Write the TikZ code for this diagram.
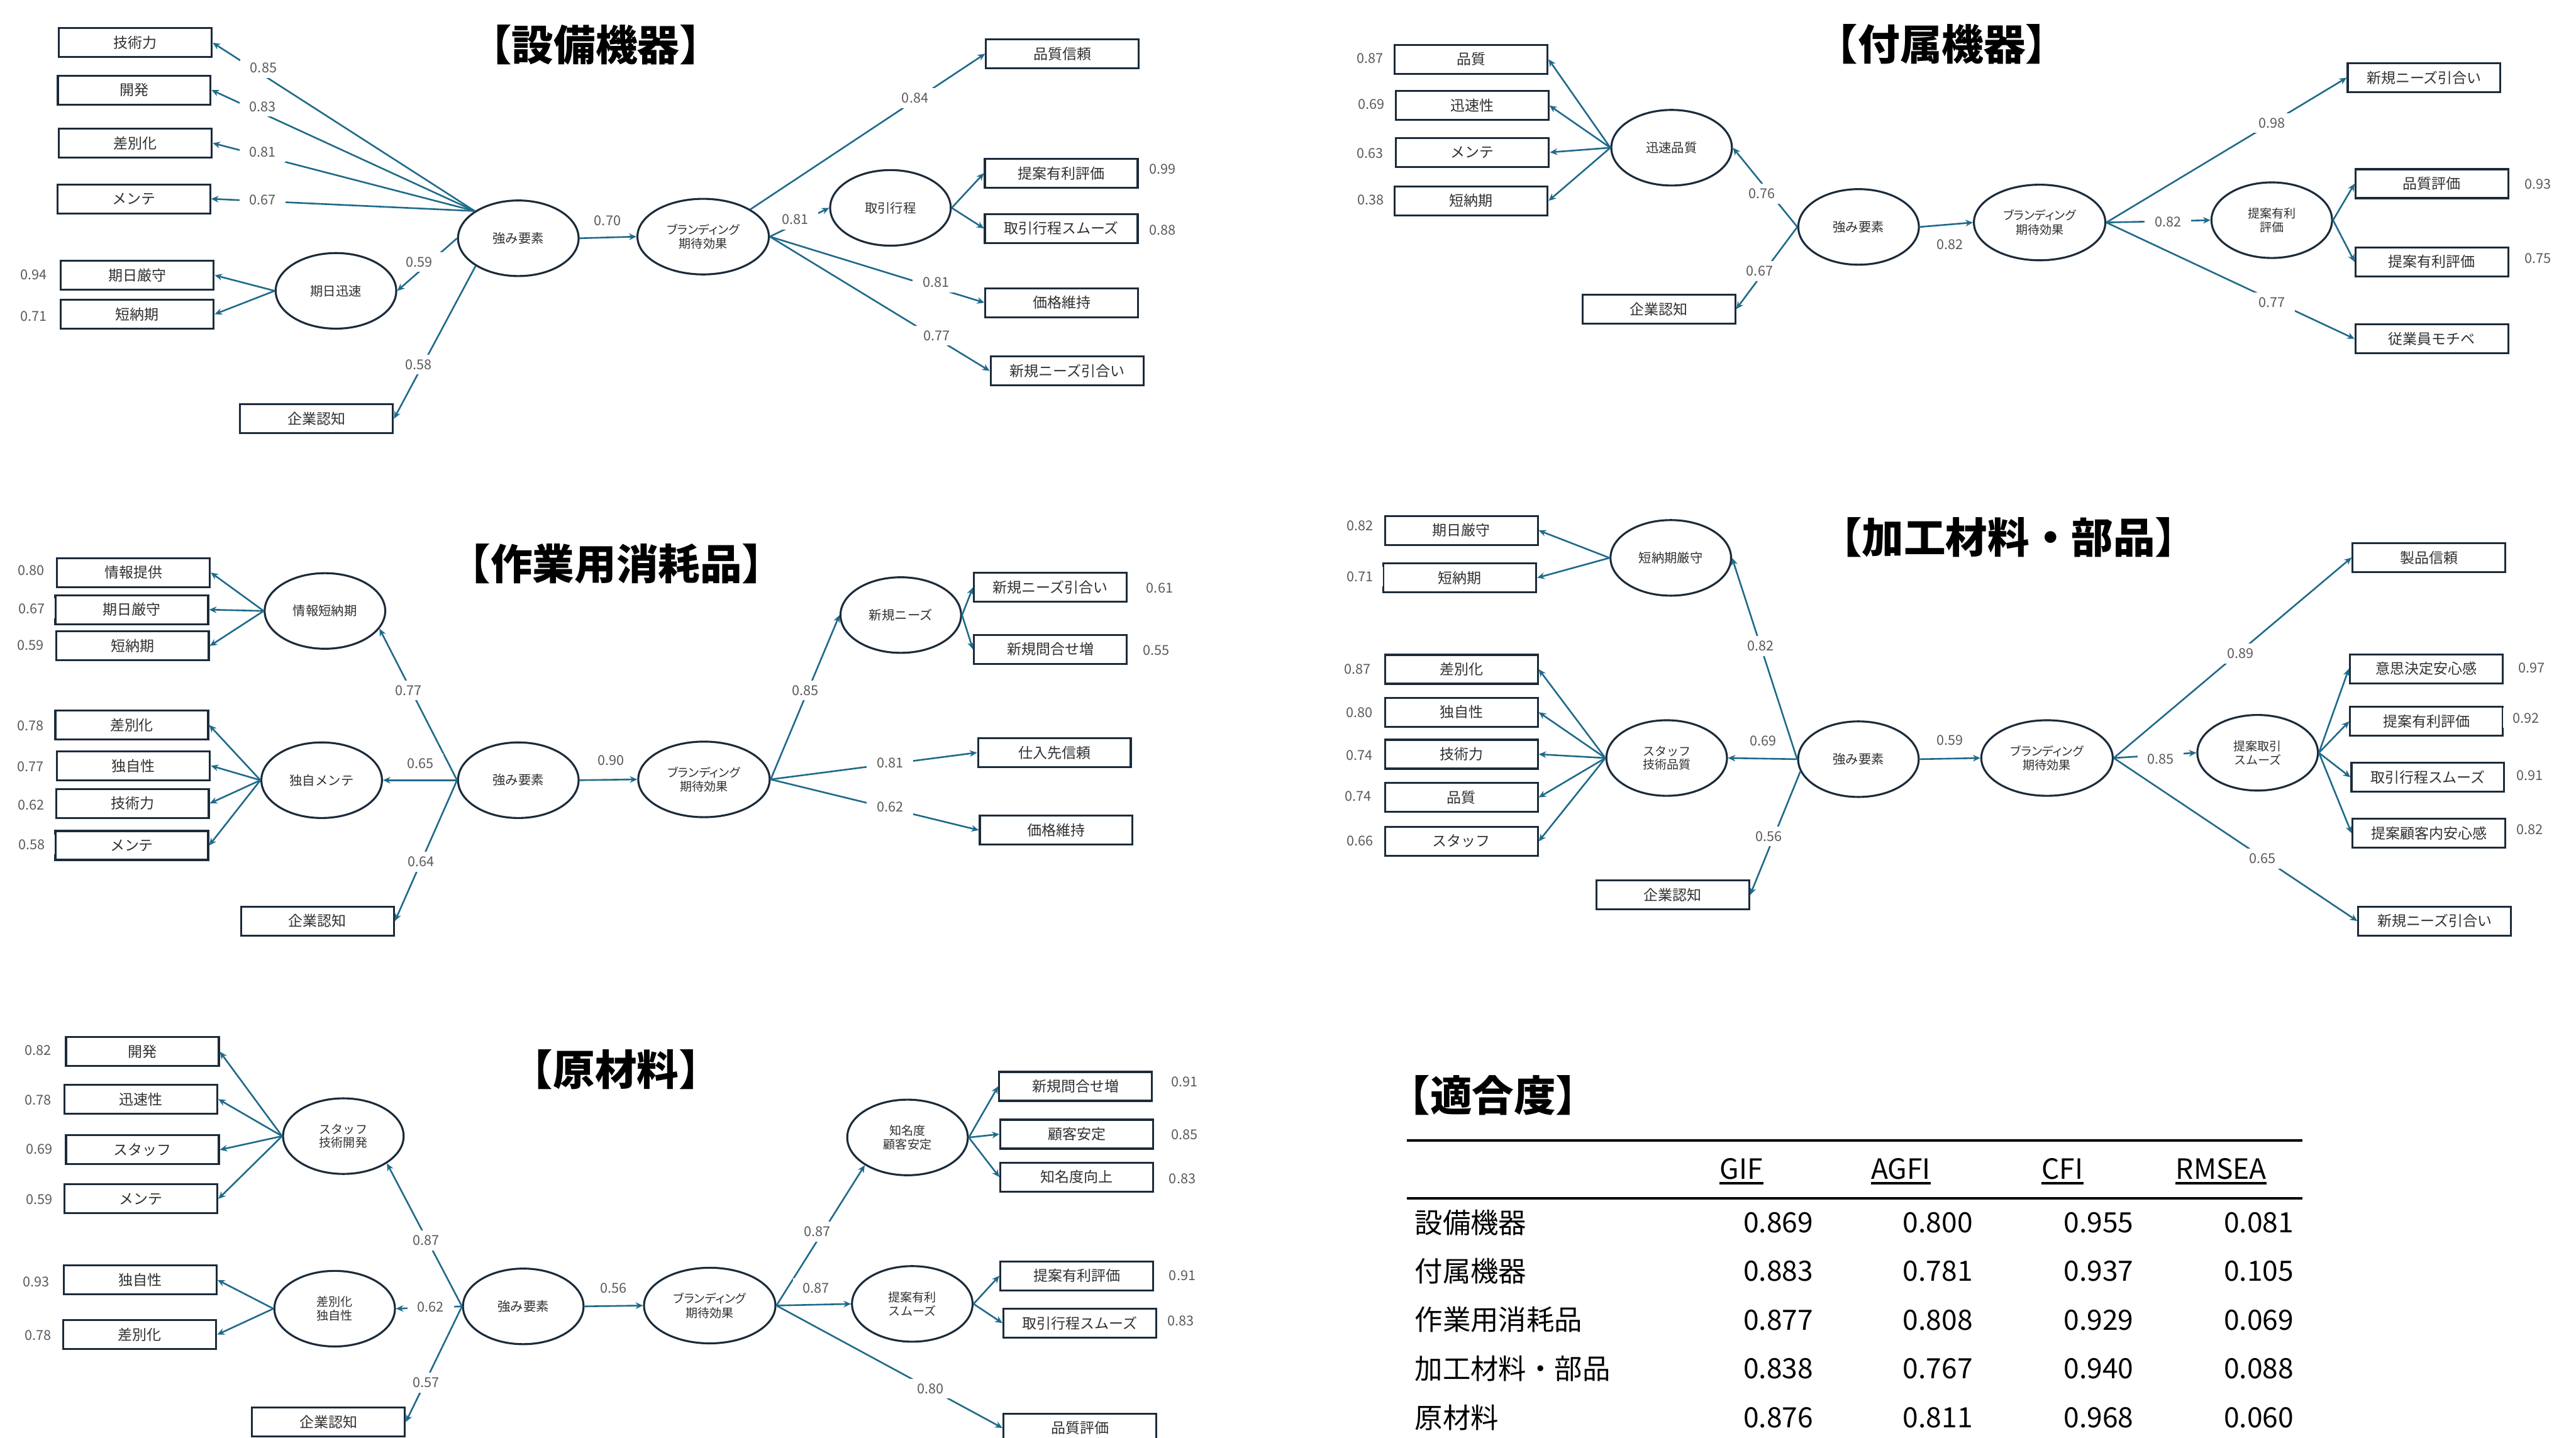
\documentclass[tikz,border=0pt]{standalone}
\usepackage{fontspec}
\setmainfont{Noto Sans CJK JP}
\newfontfamily\jpp{Noto Sans CJK JP}[RawFeature=+palt]
\usetikzlibrary{shapes.geometric,arrows.meta}
\definecolor{lcol}{HTML}{1F6A8A}
\definecolor{bcol}{HTML}{1B2B3A}
\definecolor{tcol}{HTML}{303030}
\definecolor{ncol}{HTML}{5A5A5A}
\newcommand\coefnode[3]{\node[coef] (#1) at (#2) {#3};}
\begin{document}
\begin{tikzpicture}[x=1pt,y=-1pt,
  obs/.style={draw=bcol, line width=1.2pt, minimum width=93pt, minimum height=17.6pt, inner sep=0pt, text=tcol, font=\fontsize{8.8}{9}\selectfont},
  lat/.style={ellipse, draw=bcol, line width=1.2pt, minimum width=73.4pt, minimum height=46pt, inner sep=0pt, text=tcol, align=center, font=\fontsize{7.8}{9}\selectfont},
  lat2/.style={lat, font=\fontsize{7.3}{8.3}\selectfont},
  brand/.style={lat, minimum width=80pt, font=\jpp\fontsize{7.3}{8.6}\selectfont},
  coef/.style={fill=white, text=ncol, inner xsep=6pt, inner ysep=3pt, font=\fontsize{8.3}{9}\selectfont},
  arr/.style={draw=lcol, line width=1pt, -{Stealth[length=4.5pt,width=4pt]}},
  ttl/.style={inner sep=0pt, text=black, font=\bfseries\fontsize{25.5}{27}\selectfont},
  tabt/.style={inner sep=0pt, text=black, font=\fontsize{17}{18}\selectfont}
]
\useasboundingbox (0,0) rectangle (1568,875);
\fill[white] (0,0) rectangle (1568,875);
\clip (0,0) rectangle (1568,875);

% ================= Panel 1 =================
\node[ttl] (t1) at (362.6,27.3) {【設備機器】};
\node[obs] (a1) at (82.4,26) {技術力};
\node[obs] (a2) at (81.7,54.8) {開発};
\node[obs] (a3) at (82.4,87.1) {差別化};
\node[obs] (a4) at (81.4,121) {メンテ};
\node[obs] (a5) at (83.6,167.5) {期日厳守};
\node[obs] (a6) at (83.6,191.2) {短納期};
\node[obs] (a7) at (192.7,254.8) {企業認知};
\node[lat] (aS) at (315.5,145) {強み要素};
\node[lat] (aK) at (204.5,177) {期日迅速};
\node[brand] (aB) at (428,144) {ブランディング\\期待効果};
\node[lat] (aT) at (542,126.5) {取引行程};
\node[obs] (a8) at (646.7,32.7) {品質信頼};
\node[obs] (a9) at (646,105.4) {提案有利評価};
\node[obs] (a10) at (646,139) {取引行程スムーズ};
\node[obs] (a11) at (646.3,184.2) {価格維持};
\node[obs] (a12) at (649.5,225.7) {新規ニーズ引合い};
\foreach \x in {a1,a2,a3,a4} \draw[arr] (aS.148) -- (\x.east);
\draw[arr] (aS.west) -- (aK.east);
\draw[arr] (aK.west) -- (a5.east);
\draw[arr] (aK.west) -- (a6.east);
\draw[arr] (aS.213) -- (a7.east);
\draw[arr] (aS.east) -- (aB.west);
\draw[arr] (aB.30) -- (a8.west);
\draw[arr] (aB.east) -- (aT.west);
\draw[arr] (aT.east) -- (a9.west);
\draw[arr] (aT.east) -- (a10.west);
\draw[arr] (aB.east) -- (a11.west);
\draw[arr] (aB.east) -- (a12.west);
\coefnode{al1}{160.4,41.4}{0.85}
\coefnode{al2}{159.9,64.8}{0.83}
\coefnode{al3}{159.9,92.7}{0.81}
\coefnode{al4}{159.9,121.6}{0.67}
\coefnode{al5}{255,159.4}{0.59}
\coefnode{al6}{254.8,221.8}{0.58}
\coefnode{al7}{20.5,167.1}{0.94}
\coefnode{al8}{20.5,192.5}{0.71}
\coefnode{al9}{369.8,134.4}{0.70}
\coefnode{al10}{484.1,133.5}{0.81}
\coefnode{al11}{557,59.8}{0.84}
\coefnode{al12}{707.6,103}{0.99}
\coefnode{al13}{707.6,139.9}{0.88}
\coefnode{al14}{569.7,171.8}{0.81}
\coefnode{al15}{570.2,204.2}{0.77}

% ================= Panel 2 =================
\node[ttl] (t2) at (1182,27) {【付属機器】};
\node[obs] (b1) at (895.5,36.1) {品質};
\node[obs] (b2) at (896,64.2) {迅速性};
\node[obs] (b3) at (896.3,92.7) {メンテ};
\node[obs] (b4) at (895.5,122.2) {短納期};
\node[obs] (b5) at (1009.7,188.1) {企業認知};
\node[lat] (bR) at (1017.5,89.9) {迅速品質};
\node[lat] (bS) at (1131.3,138.1) {強み要素};
\node[brand] (bB) at (1241.5,135.4) {ブランディング\\期待効果};
\node[lat2] (bV) at (1382.8,134) {提案有利\\評価};
\node[obs] (b6) at (1475.5,47.3) {新規ニーズ引合い};
\node[obs] (b7) at (1480.3,111.8) {品質評価};
\node[obs] (b8) at (1480.3,159.3) {提案有利評価};
\node[obs] (b9) at (1480.3,206.2) {従業員モチベ};
\foreach \x in {b1,b2,b3,b4} \draw[arr] (bR.west) -- (\x.east);
\draw[arr] (bS.west) -- (bR.east);
\draw[arr] (bS.west) -- (b5.east);
\draw[arr] (bS.east) -- (bB.west);
\draw[arr] (bB.east) -- (b6.west);
\draw[arr] (bB.east) -- (bV.west);
\draw[arr] (bB.east) -- (b9.west);
\draw[arr] (bV.east) -- (b7.west);
\draw[arr] (bV.east) -- (b8.west);
\coefnode{bl1}{834,35.5}{0.87}
\coefnode{bl2}{834.7,63.4}{0.69}
\coefnode{bl3}{834,93.2}{0.63}
\coefnode{bl4}{834.2,121.8}{0.38}
\coefnode{bl5}{1072.6,117.8}{0.76}
\coefnode{bl6}{1071.1,165}{0.67}
\coefnode{bl7}{1187,149}{0.82}
\coefnode{bl8}{1382.9,74.8}{0.98}
\coefnode{bl9}{1319.6,135.2}{0.82}
\coefnode{bl10}{1382.9,184}{0.77}
\coefnode{bl11}{1544.7,112.1}{0.93}
\coefnode{bl12}{1544.7,157.1}{0.75}

% ================= Panel 3 =================
\node[ttl] (t3) at (375.2,343) {【作業用消耗品】};
\node[obs] (c1) at (81.2,348.4) {情報提供};
\node[obs] (c2) at (80.2,371) {期日厳守};
\node[obs] (c3) at (80.6,393.1) {短納期};
\node[obs] (c4) at (80.2,441.2) {差別化};
\node[obs] (c5) at (81.3,466) {独自性};
\node[obs] (c6) at (80.6,488.9) {技術力};
\node[obs] (c7) at (80.2,514.5) {メンテ};
\node[obs] (c8) at (193.3,560.5) {企業認知};
\node[lat] (cA) at (197.8,371.8) {情報短納期};
\node[lat] (cM) at (195.8,474.8) {独自メンテ};
\node[lat] (cS) at (315.5,474.8) {強み要素};
\node[brand] (cB) at (428.5,474.3) {ブランディング\\期待効果};
\node[lat] (cN) at (548.3,374.3) {新規ニーズ};
\node[obs] (c9) at (639.3,357.5) {新規ニーズ引合い};
\node[obs] (c10) at (639.3,395.1) {新規問合せ増};
\node[obs] (c11) at (641.8,458) {仕入先信頼};
\node[obs] (c12) at (642.9,505.2) {価格維持};
\foreach \x in {c1,c2,c3} \draw[arr] (cA.west) -- (\x.east);
\foreach \x in {c4,c5,c6,c7} \draw[arr] (cM.west) -- (\x.east);
\draw[arr] (cS.west) -- (cM.east);
\draw[arr] (cS.west) -- (cA.342);
\draw[arr] (cS.west) -- (c8.east);
\draw[arr] (cS.east) -- (cB.west);
\draw[arr] (cB.east) -- (cN.west);
\draw[arr] (cB.east) -- (c11.west);
\draw[arr] (cB.east) -- (c12.west);
\draw[arr] (cN.east) -- (c9.west);
\draw[arr] (cN.east) -- (c10.west);
\coefnode{cl1}{19.1,347}{0.80}
\coefnode{cl2}{19.3,370.3}{0.67}
\coefnode{cl3}{18.6,392.6}{0.59}
\coefnode{cl4}{18.6,441.6}{0.78}
\coefnode{cl5}{18.6,466.4}{0.77}
\coefnode{cl6}{19.1,489.8}{0.62}
\coefnode{cl7}{19.3,513.9}{0.58}
\coefnode{cl8}{248.5,420.1}{0.77}
\coefnode{cl9}{256,464.8}{0.65}
\coefnode{cl10}{256.4,524.4}{0.64}
\coefnode{cl11}{372,462.8}{0.90}
\coefnode{cl12}{490.2,420.1}{0.85}
\coefnode{cl13}{541.7,464.2}{0.81}
\coefnode{cl14}{541.7,491.1}{0.62}
\coefnode{cl15}{705.9,357.9}{0.61}
\coefnode{cl16}{703.7,395.8}{0.55}

% ================= Panel 4 =================
\node[ttl] (t4) at (1222.6,327) {【加工材料・部品】};
\node[obs] (d1) at (889.5,322.8) {期日厳守};
\node[obs] (d2) at (888.6,351.6) {短納期};
\node[obs] (d3) at (889.5,407.3) {差別化};
\node[obs] (d4) at (889.5,433.4) {独自性};
\node[obs] (d5) at (889.5,459) {技術力};
\node[obs] (d6) at (889.5,485.3) {品質};
\node[obs] (d7) at (889.5,512) {スタッフ};
\node[obs] (d8) at (1018.2,544.6) {企業認知};
\node[lat] (dA) at (1017,339.5) {短納期厳守};
\node[lat2] (dT) at (1014.5,461.3) {スタッフ\\技術品質};
\node[lat] (dS) at (1131.2,462) {強み要素};
\node[brand] (dB) at (1246,461.3) {ブランディング\\期待効果};
\node[lat2] (dV) at (1374.2,458.1) {提案取引\\スムーズ};
\node[obs] (d9) at (1478.5,339.3) {製品信頼};
\node[obs] (d10) at (1476.8,407) {意思決定安心感};
\node[obs] (d11) at (1477,439) {提案有利評価};
\node[obs] (d12) at (1477.8,473) {取引行程スムーズ};
\node[obs] (d13) at (1478.5,507.1) {提案顧客内安心感};
\node[obs] (d14) at (1482,560.5) {新規ニーズ引合い};
\foreach \x in {d1,d2} \draw[arr] (dA.west) -- (\x.east);
\foreach \x in {d3,d4,d5,d6,d7} \draw[arr] (dT.west) -- (\x.east);
\draw[arr] (dS.west) -- (dT.east);
\draw[arr] (dS.west) -- (dA.east);
\draw[arr] (dS.192) -- (d8.east);
\draw[arr] (dS.east) -- (dB.west);
\draw[arr] (dB.east) -- (d9.west);
\draw[arr] (dB.east) -- (dV.west);
\draw[arr] (dB.east) -- (d14.west);
\foreach \x in {d10,d11,d12,d13} \draw[arr] (dV.east) -- (\x.west);
\coefnode{dl1}{827.9,320.1}{0.82}
\coefnode{dl2}{827.9,350.8}{0.71}
\coefnode{dl3}{826.2,407.3}{0.87}
\coefnode{dl4}{827.4,433.6}{0.80}
\coefnode{dl5}{827.4,459.7}{0.74}
\coefnode{dl6}{826.7,484.7}{0.74}
\coefnode{dl7}{827.9,511.7}{0.66}
\coefnode{dl8}{1071.8,393.1}{0.82}
\coefnode{dl9}{1073.1,450.9}{0.69}
\coefnode{dl10}{1076.7,508.9}{0.56}
\coefnode{dl11}{1187,450.6}{0.59}
\coefnode{dl12}{1363.9,397.7}{0.89}
\coefnode{dl13}{1315.1,462}{0.85}
\coefnode{dl14}{1377.1,522.6}{0.65}
\coefnode{dl15}{1541,406.4}{0.97}
\coefnode{dl16}{1537.7,436.9}{0.92}
\coefnode{dl17}{1539.7,472.1}{0.91}
\coefnode{dl18}{1539.7,504.9}{0.82}

% ================= Panel 5 =================
\node[ttl] (t5) at (374.9,650.7) {【原材料】};
\node[obs] (e1) at (86.7,640) {開発};
\node[obs] (e2) at (85.8,668.9) {迅速性};
\node[obs] (e3) at (86.7,699.7) {スタッフ};
\node[obs] (e4) at (85.8,729.6) {メンテ};
\node[obs] (e5) at (85.3,778.9) {独自性};
\node[obs] (e6) at (85.1,812.2) {差別化};
\node[obs] (e7) at (199.9,865.4) {企業認知};
\node[lat2] (eA) at (209,691.4) {スタッフ\\技術開発};
\node[lat2] (eD) at (203.7,796.4) {差別化\\独自性};
\node[lat] (eS) at (318.5,795) {強み要素};
\node[brand] (eB) at (432,794.5) {ブランディング\\期待効果};
\node[lat2] (eN) at (552.4,692.2) {知名度\\顧客安定};
\node[lat2] (eV) at (555.3,793.5) {提案有利\\スムーズ};
\node[obs] (e8) at (654.7,661.1) {新規問合せ増};
\node[obs] (e9) at (655.4,690.2) {顧客安定};
\node[obs] (e10) at (655.4,716.3) {知名度向上};
\node[obs] (e11) at (655.4,776.4) {提案有利評価};
\node[obs] (e12) at (657.3,805.2) {取引行程スムーズ};
\node[obs] (e13) at (657.3,869) {品質評価};
\foreach \x in {e1,e2,e3,e4} \draw[arr] (eA.west) -- (\x.east);
\foreach \x in {e5,e6} \draw[arr] (eD.west) -- (\x.east);
\draw[arr] (eS.west) -- (eA.328);
\draw[arr] (eS.west) -- (eD.east);
\draw[arr] (eS.west) -- (e7.east);
\draw[arr] (eS.east) -- (eB.west);
\draw[arr] (eB.east) -- (eN.213);
\draw[arr] (eB.east) -- (eV.west);
\draw[arr] (eB.east) -- (e13.west);
\foreach \x in {e8,e9,e10} \draw[arr] (eN.east) -- (\x.west);
\foreach \x in {e11,e12} \draw[arr] (eV.east) -- (\x.west);
\coefnode{el1}{23.3,639.3}{0.82}
\coefnode{el2}{23.3,669.4}{0.78}
\coefnode{el3}{24,699.2}{0.69}
\coefnode{el4}{24,730}{0.59}
\coefnode{el5}{22.1,779.9}{0.93}
\coefnode{el6}{23.3,812.5}{0.78}
\coefnode{el7}{259.4,755}{0.87}
\coefnode{el8}{262.2,795.4}{0.62}
\coefnode{el9}{259.4,841.4}{0.57}
\coefnode{el10}{373.4,783.8}{0.56}
\coefnode{el11}{497.5,749.6}{0.87}
\coefnode{el12}{496.7,783.8}{0.87}
\coefnode{el13}{566.5,845.1}{0.80}
\coefnode{el14}{721,658.3}{0.91}
\coefnode{el15}{721,690.6}{0.85}
\coefnode{el16}{719.7,717.2}{0.83}
\coefnode{el17}{719.7,776.2}{0.91}
\coefnode{el18}{718.8,803.9}{0.83}

% ================= Table =================
\node[ttl] (t6) at (908.8,666.5) {【適合度】};
\draw[line width=1.6pt] (856.4,694.1) -- (1401.6,694.1);
\draw[line width=1.6pt] (856.4,729.3) -- (1401.6,729.3);
\node[tabt] (h1) at (1060,711.2) {GIF};
\node[tabt] (h2) at (1157,711.2) {AGFI};
\node[tabt] (h3) at (1255.3,711.2) {CFI};
\node[tabt] (h4) at (1352,711.2) {RMSEA};
\foreach \x in {h1,h2,h3,h4} \draw[line width=1.2pt] ([yshift=-2.2pt]\x.south west) -- ([yshift=-2.2pt]\x.south east);
\foreach \nm/\yy/\lab/\va/\vb/\vc/\vd in {
  r1/744.1/設備機器/0.869/0.800/0.955/0.081,
  r2/773.6/付属機器/0.883/0.781/0.937/0.105,
  r3/803.2/作業用消耗品/0.877/0.808/0.929/0.069,
  r4/832.7/加工材料・部品/0.838/0.767/0.940/0.088,
  r5/862.8/原材料/0.876/0.811/0.968/0.060}{
  \node[tabt, anchor=west] (\nm l) at (861,\yy) {\lab};
  \node[tabt, anchor=east] (\nm a) at (1103.9,\yy) {\va};
  \node[tabt, anchor=east] (\nm b) at (1201,\yy) {\vb};
  \node[tabt, anchor=east] (\nm c) at (1298.8,\yy) {\vc};
  \node[tabt, anchor=east] (\nm d) at (1396.3,\yy) {\vd};
}
\end{tikzpicture}
\end{document}
